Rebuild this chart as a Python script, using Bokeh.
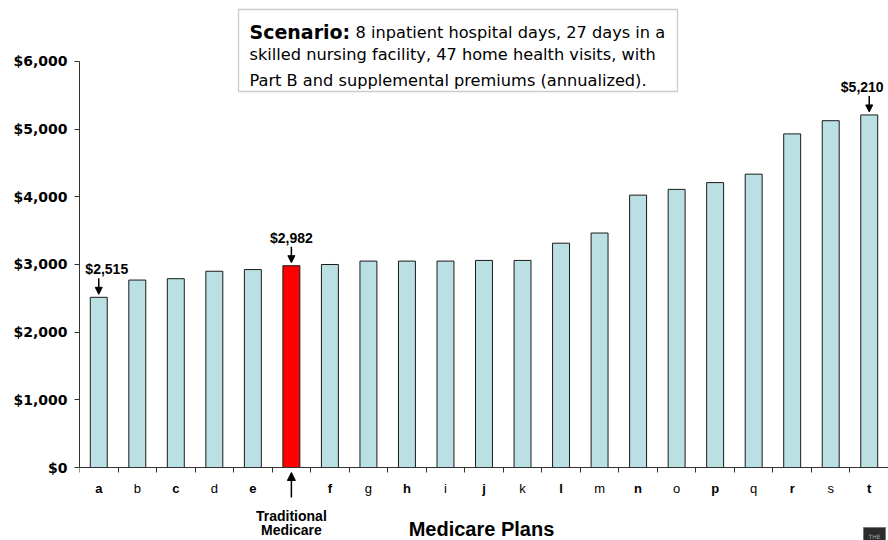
from bokeh.plotting import figure
from bokeh.models import (ColumnDataSource, FixedTicker, NumeralTickFormatter, Range1d,
                          LabelSet, Label, Arrow, NormalHead, BoxAnnotation)
from bokeh.core.properties import value
from bokeh.embed import file_html
from bokeh.resources import INLINE

# ---------------- data ----------------
plans = ["a", "b", "c", "d", "e", "Traditional Medicare", "f", "g", "h", "i", "j",
         "k", "l", "m", "n", "o", "p", "q", "r", "s", "t"]
costs = [2515, 2770, 2790, 2900, 2925, 2982, 3000, 3050, 3050, 3050, 3060,
         3060, 3315, 3465, 4025, 4110, 4210, 4335, 4930, 5125, 5210]
bold_plans = ["a", "c", "e", "f", "h", "j", "l", "n", "p", "r", "t"]
highlight_plan = "Traditional Medicare"
annotated_plans = ["a", "Traditional Medicare", "t"]
y_ticks = [0, 1000, 2000, 3000, 4000, 5000, 6000]
x_title = "Medicare Plans"
scenario_head = "Scenario:"
scenario_lines = ["8 inpatient hospital days, 27 days in a",
                  "skilled nursing facility, 47 home health visits, with",
                  "Part B and supplemental premiums (annualized)."]

# ---------------- layout / style constants ----------------
LEFT = 79
FRAME_W, FRAME_H = 809, 540
ZERO_FROM_TOP = 467          # pixel row of the $0 line
PX_PER_UNIT = 0.06767
Y_END = ZERO_FROM_TOP / PX_PER_UNIT
Y_START = -(FRAME_H - ZERO_FROM_TOP) / PX_PER_UNIT
LABEL_NUDGE = [8, 0, -7]     # horizontal pixel nudges of the value callouts


def sx(px):
    """page pixel column -> screen units from the frame's left edge"""
    return px - LEFT


def sy(py):
    """page pixel row -> screen units up from the frame's bottom edge"""
    return FRAME_H - py


BAR_COLOR = "#BBE0E3"
HI_COLOR = "#FF0000"
AXIS_COLOR = "#333333"

idx = list(range(len(plans)))
colors = [HI_COLOR if pl == highlight_plan else BAR_COLOR for pl in plans]
src = ColumnDataSource(dict(idx=idx, cost=costs, color=colors))

p = figure(width=888, height=540, frame_width=FRAME_W, frame_height=FRAME_H,
           x_range=Range1d(-0.5, len(plans) - 0.5), y_range=Range1d(Y_START, Y_END),
           output_backend="svg", toolbar_location=None,
           min_border_left=LEFT, min_border_right=0, min_border_top=0,
           min_border_bottom=0)
p.outline_line_color = None
p.grid.visible = False
p.background_fill_color = "white"
p.border_fill_color = "white"

p.vbar(x="idx", top="cost", width=0.44, fill_color="color", line_color="#1a1a1a",
       line_width=1, source=src)

# y axis
p.yaxis.ticker = FixedTicker(ticks=y_ticks)
p.yaxis.formatter = NumeralTickFormatter(format="$0,0")
p.yaxis.bounds = (y_ticks[0], y_ticks[-1])
p.yaxis.major_tick_out = 5
p.yaxis.major_tick_in = 0
p.yaxis.minor_tick_line_color = None
p.yaxis.major_label_text_font = "DejaVu Sans"
p.yaxis.major_label_text_font_size = "14px"
p.yaxis.major_label_text_font_style = "bold"
p.yaxis.major_label_text_color = "black"
p.yaxis.major_label_standoff = 7
p.yaxis.axis_line_color = AXIS_COLOR
p.yaxis.major_tick_line_color = AXIS_COLOR

# x axis at $0: tick marks at category boundaries (minor ticks, no labels)
p.xaxis.fixed_location = 0
p.xaxis.ticker = FixedTicker(ticks=[], minor_ticks=[i - 0.5 for i in range(len(plans) + 1)])
p.xaxis.major_label_standoff = 0
p.xaxis.major_tick_out = 0
p.xaxis.major_tick_in = 0
p.xaxis.minor_tick_out = 5
p.xaxis.minor_tick_in = 0
p.xaxis.minor_tick_line_color = AXIS_COLOR
p.xaxis.axis_line_color = AXIS_COLOR

# category letters
letters = [(i, pl) for i, pl in zip(idx, plans) if pl != highlight_plan]
lab_src = ColumnDataSource(dict(
    x=[i for i, _ in letters], text=[pl for _, pl in letters],
    style=["bold" if pl in bold_plans else "normal" for _, pl in letters]))
p.add_layout(LabelSet(x="x", y=0, text="text", source=lab_src, y_offset=-21,
                      text_align="center", text_baseline="middle",
                      text_font=value("Liberation Sans"), text_font_size=value("13px"),
                      text_font_style="style", text_color=value("black")))

# Traditional Medicare label + arrow below axis
hi = plans.index(highlight_plan)
words = highlight_plan.split(" ")
for k, w in enumerate(words):
    p.add_layout(Label(x=hi, y=0, y_offset=-48.5 - 13.5 * k, text=w, text_align="center",
                       text_baseline="middle", text_font="Liberation Sans",
                       text_font_size="14px", text_font_style="bold", text_color="black"))
p.add_layout(Arrow(end=NormalHead(size=8, fill_color="black", line_color="black"),
                   x_start=hi, y_start=-30 / PX_PER_UNIT, x_end=hi, y_end=-5 / PX_PER_UNIT,
                   line_width=1.5, line_color="black"))

# axis title
p.add_layout(Label(x=sx(481), y=sy(528.5), x_units="screen", y_units="screen",
                   text=x_title, text_align="center", text_baseline="middle",
                   text_font="Liberation Sans", text_font_size="20px",
                   text_font_style="bold", text_color="black"))

# value annotations
for pl, dx in zip(annotated_plans, LABEL_NUDGE):
    i = plans.index(pl)
    v = costs[i]
    p.add_layout(Label(x=i, y=v, x_offset=dx, y_offset=28, text=f"${v:,}",
                       text_align="center", text_baseline="middle",
                       text_font="Liberation Sans", text_font_size="14px",
                       text_font_style="bold", text_color="black"))
    p.add_layout(Arrow(end=NormalHead(size=7, fill_color="black", line_color="black"),
                       x_start=i, y_start=v + 19 / PX_PER_UNIT, x_end=i,
                       y_end=v + 3 / PX_PER_UNIT, line_width=1.5, line_color="black"))

# scenario box
p.add_layout(BoxAnnotation(left=sx(238), right=sx(677), top=sy(9), bottom=sy(91),
                           left_units="screen", right_units="screen",
                           top_units="screen", bottom_units="screen",
                           fill_color="white", fill_alpha=1.0,
                           line_color="#555555", line_width=1.3))
p.add_layout(Label(x=sx(249), y=sy(31.5), x_units="screen", y_units="screen",
                   text=scenario_head, text_baseline="middle",
                   text_font="DejaVu Sans", text_font_size="19px",
                   text_font_style="bold", text_color="black"))
line_x = [sx(355), sx(249), sx(249)]
line_y = [sy(31.5), sy(54), sy(79.5)]
for t, lx, ly in zip(scenario_lines, line_x, line_y):
    p.add_layout(Label(x=lx, y=ly, x_units="screen", y_units="screen", text=t,
                       text_baseline="middle", text_font="DejaVu Sans",
                       text_font_size="16.2px", text_color="black"))

# small logo corner
p.add_layout(Label(x=sx(863), y=sy(544), x_units="screen", y_units="screen", text="THE",
                   text_baseline="bottom", text_font="DejaVu Sans", text_font_size="6px",
                   text_color="#aaaaaa", background_fill_color="#2b2b2b",
                   border_line_color="#777777", padding=5))

open("out.html", "w").write(file_html(p, INLINE))
